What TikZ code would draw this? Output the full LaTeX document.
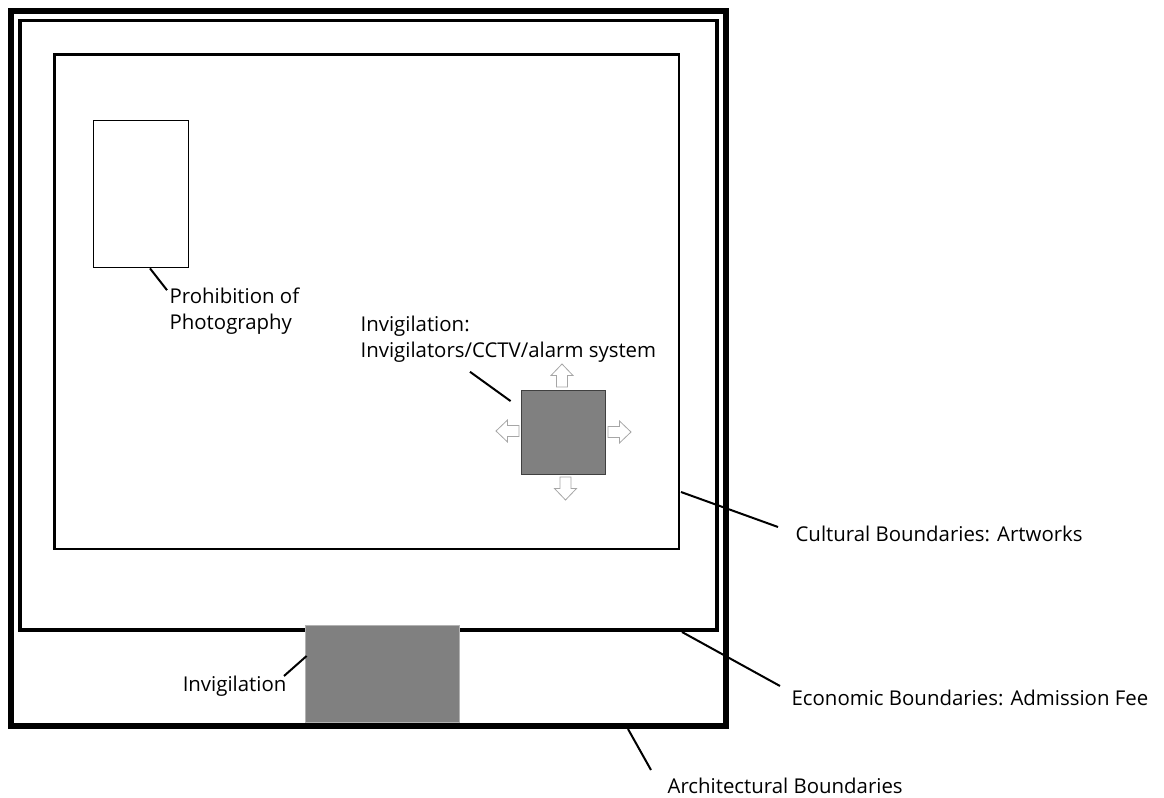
\documentclass[tikz,border=0pt]{standalone}
\usepackage{fontspec}
\setmainfont{Open Sans}

\begin{document}
\begin{tikzpicture}[x=.75pt,y=-.75pt,
  lbl/.style={draw=none,inner sep=1pt,align=left,anchor=west,font=\fontsize{15.3}{19.5}\selectfont},
  lead/.style={line width=1.5pt},
  blk/.style={draw=black!35,fill=white,line width=.6pt,line join=miter}]
             \useasboundingbox (0,0) rectangle (1164,798);

             \draw[line width=4.5pt] (11,11) rectangle (726,726);
             \draw[line width=2.6pt] (20,20.5) rectangle (717,630);
             \draw[line width=1.9pt] (54.5,54.5) rectangle (679,549);

             \node[draw,line width=.6pt,inner sep=0,minimum width=71.25pt,minimum height=110.25pt] (photo) at (140.5,193.5) {};
             \node[draw=black!75,fill=gray,line width=.6pt,inner sep=0,minimum size=63pt] (sq) at (563,432.5) {};
             \node[draw=black!30,fill=gray,line width=.6pt,inner sep=0,minimum width=115.5pt,minimum height=72.75pt] (gate) at (382,673.5) {};

             \draw[blk,shift={(562,375.5)}] (-5.5,11.5) -- (-5.5,0) -- (-11,0) -- (0,-11.5) -- (11,0) -- (5.5,0) -- (5.5,11.5) -- cycle;
             \draw[blk,shift={(565.5,488.5)}] (-5.5,-11.5) -- (-5.5,0) -- (-11,0) -- (0,11.5) -- (11,0) -- (5.5,0) -- (5.5,-11.5) -- cycle;
             \draw[blk,shift={(507.5,431)}] (11.5,-5.5) -- (0,-5.5) -- (0,-11) -- (-11.5,0) -- (0,11) -- (0,5.5) -- (11.5,5.5) -- cycle;
             \draw[blk,shift={(619.5,432)}] (-11.5,-5.5) -- (0,-5.5) -- (0,-11) -- (11.5,0) -- (0,11) -- (0,5.5) -- (-11.5,5.5) -- cycle;

             \node[lbl] (photolbl) at (168,311) {Prohibition of\\Photography};
             \node[lbl] (invlbl) at (359,339) {Invigilation:\\Invigilators/CCTV/alarm system};
             \node[lbl] (cultlbl) at (794,534) {Cultural Boundaries: Artworks};
             \node[lbl] (econlbl) at (790,698) {Economic Boundaries: Admission Fee};
             \node[lbl] (archlbl) at (666,786) {Architectural Boundaries};
             \node[lbl,anchor=east] (gatelbl) at (288,686) {Invigilation};

             \coordinate (cultpt) at (681,492);
             \coordinate (econpt) at (682,632);
             \coordinate (archpt) at (628,729);

             \draw[lead] ([shift={(9.5,1)}]photo.south) -- ([shift={(-1,4)}]photolbl.north west);
             \draw[lead] ([shift={(-10,11)}]sq.north west) -- ([shift={(111,8)}]invlbl.south west);
             \draw[lead] (cultpt) -- ([shift={(-16,-7)}]cultlbl.west);
             \draw[lead] (econpt) -- ([shift={(-10,-12)}]econlbl.west);
             \draw[lead] (archpt) -- ([shift={(-15,-16)}]archlbl.west);
             \draw[lead] ([shift={(2,-17.5)}]gate.west) -- ([shift={(-4,-10)}]gatelbl.east);

             \end{tikzpicture}
\end{document}
